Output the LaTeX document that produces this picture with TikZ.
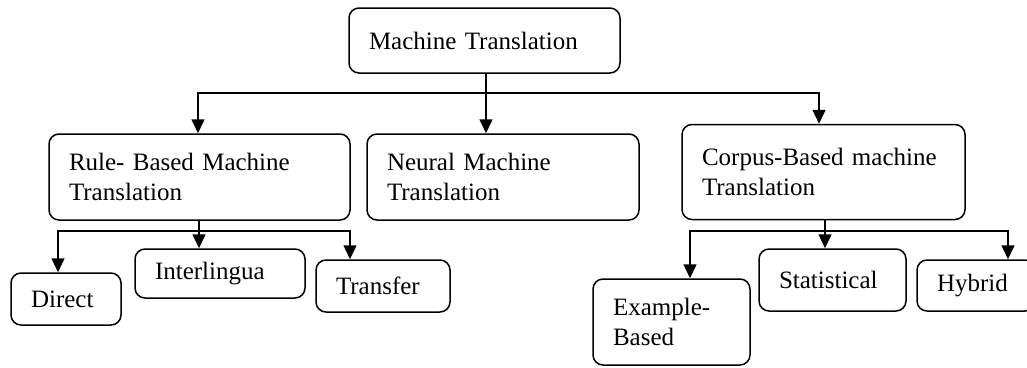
\documentclass[tikz,border=0pt]{standalone}
\usepackage{fontspec}
\setmainfont{Liberation Serif}
\usetikzlibrary{arrows.meta}
\begin{document}
\begin{tikzpicture}[x=1pt,y=-1pt,
  box/.style={draw, rounded corners=10pt, line width=1.5pt, align=left,
    inner xsep=20pt, inner ysep=0pt, font=\fontsize{25}{30}\selectfont},
  arr/.style={line width=1.5pt, -{Triangle[length=14pt,width=13pt]}},
  ln/.style={line width=1.5pt}]
\useasboundingbox (0,0) rectangle (1027,367);
\clip (0,0) rectangle (1027,367);
% level 0
\node[box, text width=231pt, minimum height=65pt] (top) at (484.5,40.5) {Machine Translation};
% level 1
\node[box, text width=261pt, minimum height=86pt] (rbmt) at (199.5,177) {Rule- Based Machine\\Translation};
\node[box, text width=232pt, minimum height=86pt] (nmt) at (503,177) {Neural Machine\\Translation};
\node[box, text width=243pt, minimum height=95pt] (cbmt) at (823.5,172) {Corpus-Based machine\\Translation};
% level 2 left
\node[box, text width=70pt, minimum height=52pt] (direct) at (66,299) {Direct};
\node[box, text width=130pt, minimum height=49pt] (inter) at (220,273.5) {Interlingua};
\node[box, text width=94pt, minimum height=52pt] (transfer) at (383,286) {Transfer};
% level 2 right
\node[box, text width=117pt, minimum height=86pt] (example) at (671.5,322) {Example-\\Based};
\node[box, text width=107pt, minimum height=62pt] (stat) at (832.5,280) {Statistical};
\node[box, text width=78pt, minimum height=51pt] (hybrid) at (976,285.5) {Hybrid};
% junctions
\coordinate (j1) at (486,93);
\coordinate (j2) at (199,231);
\coordinate (j3) at (825,231);
% connectors level 0 -> 1
\draw[ln] (top.south -| j1) -- (j1);
\draw[arr] (j1) -| ([xshift=-1.5pt]rbmt.north);
\draw[arr] (j1) -- (j1 |- nmt.north);
\draw[arr] (j1) -| ([xshift=-4.5pt]cbmt.north);
% rbmt -> children
\draw[ln] (rbmt.south -| j2) -- (j2);
\draw[arr] (j2) -| ([xshift=-8pt]direct.north);
\draw[arr] (j2) -- (j2 |- inter.north);
\draw[arr] (j2) -| ([xshift=-33pt]transfer.north);
% cbmt -> children
\draw[ln] (cbmt.south -| j3) -- (j3);
\draw[arr] (j3) -| ([xshift=18.5pt]example.north);
\draw[arr] (j3) -- (j3 |- stat.north);
\draw[arr] (j3) -| ([xshift=32pt]hybrid.north);
\end{tikzpicture}
\end{document}
